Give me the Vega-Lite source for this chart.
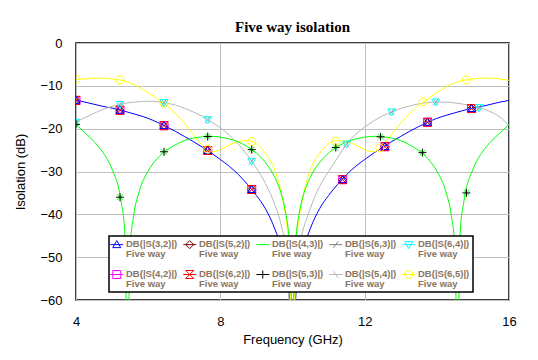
{
  "$schema": "https://vega.github.io/schema/vega-lite/v6.json",
  "width": 433,
  "height": 257,
  "autosize": {"type": "none"},
  "padding": {"left": 76, "top": 43, "right": 29, "bottom": 60},
  "background": "white",
  "title": {"text": "Five way isolation", "font": "Liberation Serif", "fontSize": 15, "fontWeight": "bold", "baseline": "alphabetic", "frame": "group", "offset": 10, "dy": 20, "anchor": "middle", "color": "black"},
  "config": {
    "view": {"stroke": "black", "strokeWidth": 1.5},
    "axis": {"gridColor": "#c0c0c0", "gridWidth": 1, "gridOpacity": 1, "domain": false, "ticks": false, "labelFont": "Liberation Sans", "labelFontSize": 13, "labelColor": "black", "titleFont": "Liberation Sans", "titleFontSize": 13, "titleFontWeight": "normal", "titleColor": "black"}
  },
  "datasets": {
    "curves": [
      {"s": "DB(|S(3,2)|)", "f": 4, "db": -13.4}, {"s": "DB(|S(3,2)|)", "f": 4.25, "db": -13.8}, {"s": "DB(|S(3,2)|)", "f": 4.5, "db": -14.3}, {"s": "DB(|S(3,2)|)", "f": 4.75, "db": -14.8}, {"s": "DB(|S(3,2)|)", "f": 5, "db": -15.2}, {"s": "DB(|S(3,2)|)", "f": 5.25, "db": -15.7}, {"s": "DB(|S(3,2)|)", "f": 5.5, "db": -16.3}, {"s": "DB(|S(3,2)|)", "f": 5.75, "db": -16.9}, {"s": "DB(|S(3,2)|)", "f": 6, "db": -17.6}, {"s": "DB(|S(3,2)|)", "f": 6.25, "db": -18.5}, {"s": "DB(|S(3,2)|)", "f": 6.5, "db": -19.5}, {"s": "DB(|S(3,2)|)", "f": 6.75, "db": -20.6}, {"s": "DB(|S(3,2)|)", "f": 7, "db": -21.8}, {"s": "DB(|S(3,2)|)", "f": 7.25, "db": -23.0}, {"s": "DB(|S(3,2)|)", "f": 7.5, "db": -24.3}, {"s": "DB(|S(3,2)|)", "f": 7.75, "db": -25.7}, {"s": "DB(|S(3,2)|)", "f": 8, "db": -27.2}, {"s": "DB(|S(3,2)|)", "f": 8.25, "db": -28.8}, {"s": "DB(|S(3,2)|)", "f": 8.5, "db": -30.7}, {"s": "DB(|S(3,2)|)", "f": 8.75, "db": -33.0}, {"s": "DB(|S(3,2)|)", "f": 9, "db": -35.6}, {"s": "DB(|S(3,2)|)", "f": 9.25, "db": -38.7}, {"s": "DB(|S(3,2)|)", "f": 9.5, "db": -43.2}, {"s": "DB(|S(3,2)|)", "f": 9.75, "db": -50}, {"s": "DB(|S(3,2)|)", "f": 9.9, "db": -58}, {"s": "DB(|S(3,2)|)", "f": 10, "db": -75}, {"s": "DB(|S(3,2)|)", "f": 10.1, "db": -58}, {"s": "DB(|S(3,2)|)", "f": 10.25, "db": -50}, {"s": "DB(|S(3,2)|)", "f": 10.5, "db": -43.2}, {"s": "DB(|S(3,2)|)", "f": 10.75, "db": -38.7}, {"s": "DB(|S(3,2)|)", "f": 11, "db": -35.6}, {"s": "DB(|S(3,2)|)", "f": 11.25, "db": -33.0}, {"s": "DB(|S(3,2)|)", "f": 11.5, "db": -30.7}, {"s": "DB(|S(3,2)|)", "f": 11.75, "db": -28.8}, {"s": "DB(|S(3,2)|)", "f": 12, "db": -27.2}, {"s": "DB(|S(3,2)|)", "f": 12.25, "db": -25.7}, {"s": "DB(|S(3,2)|)", "f": 12.5, "db": -24.3}, {"s": "DB(|S(3,2)|)", "f": 12.75, "db": -23.0}, {"s": "DB(|S(3,2)|)", "f": 13, "db": -21.8}, {"s": "DB(|S(3,2)|)", "f": 13.25, "db": -20.6}, {"s": "DB(|S(3,2)|)", "f": 13.5, "db": -19.5}, {"s": "DB(|S(3,2)|)", "f": 13.75, "db": -18.5}, {"s": "DB(|S(3,2)|)", "f": 14, "db": -17.6}, {"s": "DB(|S(3,2)|)", "f": 14.25, "db": -16.9}, {"s": "DB(|S(3,2)|)", "f": 14.5, "db": -16.3}, {"s": "DB(|S(3,2)|)", "f": 14.75, "db": -15.7}, {"s": "DB(|S(3,2)|)", "f": 15, "db": -15.2}, {"s": "DB(|S(3,2)|)", "f": 15.25, "db": -14.8}, {"s": "DB(|S(3,2)|)", "f": 15.5, "db": -14.3}, {"s": "DB(|S(3,2)|)", "f": 15.75, "db": -13.8}, {"s": "DB(|S(3,2)|)", "f": 16, "db": -13.4},

      {"s": "DB(|S(5,4)|)", "f": 4, "db": -18.5}, {"s": "DB(|S(5,4)|)", "f": 4.25, "db": -17.4}, {"s": "DB(|S(5,4)|)", "f": 4.5, "db": -16.4}, {"s": "DB(|S(5,4)|)", "f": 4.75, "db": -15.5}, {"s": "DB(|S(5,4)|)", "f": 5, "db": -14.8}, {"s": "DB(|S(5,4)|)", "f": 5.25, "db": -14.3}, {"s": "DB(|S(5,4)|)", "f": 5.5, "db": -13.9}, {"s": "DB(|S(5,4)|)", "f": 5.75, "db": -13.7}, {"s": "DB(|S(5,4)|)", "f": 6, "db": -13.6}, {"s": "DB(|S(5,4)|)", "f": 6.25, "db": -13.7}, {"s": "DB(|S(5,4)|)", "f": 6.5, "db": -14.0}, {"s": "DB(|S(5,4)|)", "f": 6.75, "db": -14.5}, {"s": "DB(|S(5,4)|)", "f": 7, "db": -15.2}, {"s": "DB(|S(5,4)|)", "f": 7.25, "db": -16.1}, {"s": "DB(|S(5,4)|)", "f": 7.5, "db": -17.1}, {"s": "DB(|S(5,4)|)", "f": 7.75, "db": -18.4}, {"s": "DB(|S(5,4)|)", "f": 8, "db": -19.8}, {"s": "DB(|S(5,4)|)", "f": 8.25, "db": -21.5}, {"s": "DB(|S(5,4)|)", "f": 8.5, "db": -23.6}, {"s": "DB(|S(5,4)|)", "f": 8.75, "db": -26.2}, {"s": "DB(|S(5,4)|)", "f": 9, "db": -29.2}, {"s": "DB(|S(5,4)|)", "f": 9.25, "db": -32.8}, {"s": "DB(|S(5,4)|)", "f": 9.5, "db": -37.5}, {"s": "DB(|S(5,4)|)", "f": 9.7, "db": -43}, {"s": "DB(|S(5,4)|)", "f": 9.85, "db": -50}, {"s": "DB(|S(5,4)|)", "f": 10, "db": -75}, {"s": "DB(|S(5,4)|)", "f": 10.12, "db": -50}, {"s": "DB(|S(5,4)|)", "f": 10.25, "db": -45}, {"s": "DB(|S(5,4)|)", "f": 10.5, "db": -38.5}, {"s": "DB(|S(5,4)|)", "f": 10.75, "db": -33.5}, {"s": "DB(|S(5,4)|)", "f": 11, "db": -30}, {"s": "DB(|S(5,4)|)", "f": 11.25, "db": -26.8}, {"s": "DB(|S(5,4)|)", "f": 11.5, "db": -23.6}, {"s": "DB(|S(5,4)|)", "f": 11.75, "db": -21.3}, {"s": "DB(|S(5,4)|)", "f": 12, "db": -19.6}, {"s": "DB(|S(5,4)|)", "f": 12.25, "db": -18.2}, {"s": "DB(|S(5,4)|)", "f": 12.5, "db": -17.0}, {"s": "DB(|S(5,4)|)", "f": 12.75, "db": -16.1}, {"s": "DB(|S(5,4)|)", "f": 13, "db": -15.3}, {"s": "DB(|S(5,4)|)", "f": 13.25, "db": -14.7}, {"s": "DB(|S(5,4)|)", "f": 13.5, "db": -14.2}, {"s": "DB(|S(5,4)|)", "f": 13.75, "db": -13.9}, {"s": "DB(|S(5,4)|)", "f": 14, "db": -13.8}, {"s": "DB(|S(5,4)|)", "f": 14.25, "db": -13.8}, {"s": "DB(|S(5,4)|)", "f": 14.5, "db": -14.0}, {"s": "DB(|S(5,4)|)", "f": 14.75, "db": -14.3}, {"s": "DB(|S(5,4)|)", "f": 15, "db": -14.7}, {"s": "DB(|S(5,4)|)", "f": 15.25, "db": -15.3}, {"s": "DB(|S(5,4)|)", "f": 15.5, "db": -16.1}, {"s": "DB(|S(5,4)|)", "f": 15.75, "db": -17.3}, {"s": "DB(|S(5,4)|)", "f": 16, "db": -19.3},

      {"s": "DB(|S(6,5)|)", "f": 4, "db": -8.5}, {"s": "DB(|S(6,5)|)", "f": 4.25, "db": -8.4}, {"s": "DB(|S(6,5)|)", "f": 4.5, "db": -8.2}, {"s": "DB(|S(6,5)|)", "f": 4.75, "db": -8.2}, {"s": "DB(|S(6,5)|)", "f": 5, "db": -8.4}, {"s": "DB(|S(6,5)|)", "f": 5.25, "db": -8.7}, {"s": "DB(|S(6,5)|)", "f": 5.5, "db": -9.3}, {"s": "DB(|S(6,5)|)", "f": 5.75, "db": -10.3}, {"s": "DB(|S(6,5)|)", "f": 6, "db": -11.6}, {"s": "DB(|S(6,5)|)", "f": 6.25, "db": -13.0}, {"s": "DB(|S(6,5)|)", "f": 6.5, "db": -14.5}, {"s": "DB(|S(6,5)|)", "f": 6.75, "db": -16.4}, {"s": "DB(|S(6,5)|)", "f": 7, "db": -18.7}, {"s": "DB(|S(6,5)|)", "f": 7.25, "db": -21.3}, {"s": "DB(|S(6,5)|)", "f": 7.5, "db": -23.9}, {"s": "DB(|S(6,5)|)", "f": 7.75, "db": -25.4}, {"s": "DB(|S(6,5)|)", "f": 8, "db": -24.9}, {"s": "DB(|S(6,5)|)", "f": 8.25, "db": -23.8}, {"s": "DB(|S(6,5)|)", "f": 8.5, "db": -23.0}, {"s": "DB(|S(6,5)|)", "f": 8.75, "db": -22.8}, {"s": "DB(|S(6,5)|)", "f": 9, "db": -23.5}, {"s": "DB(|S(6,5)|)", "f": 9.25, "db": -25.8}, {"s": "DB(|S(6,5)|)", "f": 9.5, "db": -29.5}, {"s": "DB(|S(6,5)|)", "f": 9.65, "db": -33.5}, {"s": "DB(|S(6,5)|)", "f": 9.75, "db": -37.5}, {"s": "DB(|S(6,5)|)", "f": 9.85, "db": -43}, {"s": "DB(|S(6,5)|)", "f": 9.92, "db": -50}, {"s": "DB(|S(6,5)|)", "f": 10, "db": -75}, {"s": "DB(|S(6,5)|)", "f": 10.08, "db": -50}, {"s": "DB(|S(6,5)|)", "f": 10.15, "db": -43}, {"s": "DB(|S(6,5)|)", "f": 10.25, "db": -37.5}, {"s": "DB(|S(6,5)|)", "f": 10.35, "db": -33.5}, {"s": "DB(|S(6,5)|)", "f": 10.5, "db": -29.5}, {"s": "DB(|S(6,5)|)", "f": 10.75, "db": -25.8}, {"s": "DB(|S(6,5)|)", "f": 11, "db": -23.5}, {"s": "DB(|S(6,5)|)", "f": 11.25, "db": -22.8}, {"s": "DB(|S(6,5)|)", "f": 11.5, "db": -23.0}, {"s": "DB(|S(6,5)|)", "f": 11.75, "db": -23.8}, {"s": "DB(|S(6,5)|)", "f": 12, "db": -24.9}, {"s": "DB(|S(6,5)|)", "f": 12.25, "db": -25.4}, {"s": "DB(|S(6,5)|)", "f": 12.5, "db": -23.9}, {"s": "DB(|S(6,5)|)", "f": 12.75, "db": -21.3}, {"s": "DB(|S(6,5)|)", "f": 13, "db": -18.7}, {"s": "DB(|S(6,5)|)", "f": 13.25, "db": -16.4}, {"s": "DB(|S(6,5)|)", "f": 13.5, "db": -14.5}, {"s": "DB(|S(6,5)|)", "f": 13.75, "db": -13.0}, {"s": "DB(|S(6,5)|)", "f": 14, "db": -11.6}, {"s": "DB(|S(6,5)|)", "f": 14.25, "db": -10.3}, {"s": "DB(|S(6,5)|)", "f": 14.5, "db": -9.3}, {"s": "DB(|S(6,5)|)", "f": 14.75, "db": -8.7}, {"s": "DB(|S(6,5)|)", "f": 15, "db": -8.4}, {"s": "DB(|S(6,5)|)", "f": 15.25, "db": -8.2}, {"s": "DB(|S(6,5)|)", "f": 15.5, "db": -8.2}, {"s": "DB(|S(6,5)|)", "f": 15.75, "db": -8.4}, {"s": "DB(|S(6,5)|)", "f": 16, "db": -8.7},

      {"s": "DB(|S(4,3)|)", "f": 4, "db": -19.0}, {"s": "DB(|S(4,3)|)", "f": 4.25, "db": -21.0}, {"s": "DB(|S(4,3)|)", "f": 4.5, "db": -23.0}, {"s": "DB(|S(4,3)|)", "f": 4.75, "db": -25.6}, {"s": "DB(|S(4,3)|)", "f": 5, "db": -29.5}, {"s": "DB(|S(4,3)|)", "f": 5.25, "db": -37.0}, {"s": "DB(|S(4,3)|)", "f": 5.35, "db": -44}, {"s": "DB(|S(4,3)|)", "f": 5.43, "db": -75}, {"s": "DB(|S(4,3)|)", "f": 5.5, "db": -47.8}, {"s": "DB(|S(4,3)|)", "f": 5.6, "db": -40.2}, {"s": "DB(|S(4,3)|)", "f": 5.75, "db": -34.7}, {"s": "DB(|S(4,3)|)", "f": 6, "db": -29.9}, {"s": "DB(|S(4,3)|)", "f": 6.25, "db": -27.0}, {"s": "DB(|S(4,3)|)", "f": 6.5, "db": -25.1}, {"s": "DB(|S(4,3)|)", "f": 6.75, "db": -23.8}, {"s": "DB(|S(4,3)|)", "f": 7, "db": -22.8}, {"s": "DB(|S(4,3)|)", "f": 7.25, "db": -22.2}, {"s": "DB(|S(4,3)|)", "f": 7.5, "db": -21.9}, {"s": "DB(|S(4,3)|)", "f": 7.75, "db": -21.8}, {"s": "DB(|S(4,3)|)", "f": 8, "db": -22.0}, {"s": "DB(|S(4,3)|)", "f": 8.25, "db": -22.4}, {"s": "DB(|S(4,3)|)", "f": 8.5, "db": -23.1}, {"s": "DB(|S(4,3)|)", "f": 8.75, "db": -24.2}, {"s": "DB(|S(4,3)|)", "f": 9, "db": -25.7}, {"s": "DB(|S(4,3)|)", "f": 9.25, "db": -27.9}, {"s": "DB(|S(4,3)|)", "f": 9.5, "db": -31.2}, {"s": "DB(|S(4,3)|)", "f": 9.7, "db": -35.6}, {"s": "DB(|S(4,3)|)", "f": 9.8, "db": -39.1}, {"s": "DB(|S(4,3)|)", "f": 9.9, "db": -45.1}, {"s": "DB(|S(4,3)|)", "f": 9.95, "db": -51}, {"s": "DB(|S(4,3)|)", "f": 10, "db": -75}, {"s": "DB(|S(4,3)|)", "f": 10.05, "db": -51}, {"s": "DB(|S(4,3)|)", "f": 10.1, "db": -45.1}, {"s": "DB(|S(4,3)|)", "f": 10.2, "db": -39.1}, {"s": "DB(|S(4,3)|)", "f": 10.3, "db": -35.6}, {"s": "DB(|S(4,3)|)", "f": 10.5, "db": -31.2}, {"s": "DB(|S(4,3)|)", "f": 10.75, "db": -27.9}, {"s": "DB(|S(4,3)|)", "f": 11, "db": -25.7}, {"s": "DB(|S(4,3)|)", "f": 11.25, "db": -24.2}, {"s": "DB(|S(4,3)|)", "f": 11.5, "db": -23.1}, {"s": "DB(|S(4,3)|)", "f": 11.75, "db": -22.4}, {"s": "DB(|S(4,3)|)", "f": 12, "db": -22.0}, {"s": "DB(|S(4,3)|)", "f": 12.25, "db": -21.8}, {"s": "DB(|S(4,3)|)", "f": 12.5, "db": -21.9}, {"s": "DB(|S(4,3)|)", "f": 12.75, "db": -22.2}, {"s": "DB(|S(4,3)|)", "f": 13, "db": -22.8}, {"s": "DB(|S(4,3)|)", "f": 13.25, "db": -23.8}, {"s": "DB(|S(4,3)|)", "f": 13.5, "db": -25.1}, {"s": "DB(|S(4,3)|)", "f": 13.75, "db": -27.0}, {"s": "DB(|S(4,3)|)", "f": 14, "db": -29.9}, {"s": "DB(|S(4,3)|)", "f": 14.25, "db": -34.7}, {"s": "DB(|S(4,3)|)", "f": 14.4, "db": -40.2}, {"s": "DB(|S(4,3)|)", "f": 14.5, "db": -47.8}, {"s": "DB(|S(4,3)|)", "f": 14.57, "db": -75}, {"s": "DB(|S(4,3)|)", "f": 14.65, "db": -44}, {"s": "DB(|S(4,3)|)", "f": 14.75, "db": -37.0}, {"s": "DB(|S(4,3)|)", "f": 15, "db": -29.5}, {"s": "DB(|S(4,3)|)", "f": 15.25, "db": -25.6}, {"s": "DB(|S(4,3)|)", "f": 15.5, "db": -23.0}, {"s": "DB(|S(4,3)|)", "f": 15.75, "db": -21.0}, {"s": "DB(|S(4,3)|)", "f": 16, "db": -19.0}
    ],
    "markers": [
      {"s": "DB(|S(4,2)|)", "f": 4, "db": -13.4}, {"s": "DB(|S(4,2)|)", "f": 5.22, "db": -15.7}, {"s": "DB(|S(4,2)|)", "f": 6.44, "db": -19.3}, {"s": "DB(|S(4,2)|)", "f": 7.65, "db": -25.1}, {"s": "DB(|S(4,2)|)", "f": 8.87, "db": -34.2}, {"s": "DB(|S(4,2)|)", "f": 11.39, "db": -31.9}, {"s": "DB(|S(4,2)|)", "f": 12.56, "db": -24.2}, {"s": "DB(|S(4,2)|)", "f": 13.74, "db": -18.5}, {"s": "DB(|S(4,2)|)", "f": 14.96, "db": -15.3},
      {"s": "DB(|S(5,2)|)", "f": 4, "db": -13.4}, {"s": "DB(|S(5,2)|)", "f": 5.22, "db": -15.7}, {"s": "DB(|S(5,2)|)", "f": 6.44, "db": -19.3}, {"s": "DB(|S(5,2)|)", "f": 7.65, "db": -25.1}, {"s": "DB(|S(5,2)|)", "f": 8.87, "db": -34.2}, {"s": "DB(|S(5,2)|)", "f": 11.39, "db": -31.9}, {"s": "DB(|S(5,2)|)", "f": 12.56, "db": -24.2}, {"s": "DB(|S(5,2)|)", "f": 13.74, "db": -18.5}, {"s": "DB(|S(5,2)|)", "f": 14.96, "db": -15.3},
      {"s": "DB(|S(6,2)|)", "f": 4, "db": -13.4}, {"s": "DB(|S(6,2)|)", "f": 5.22, "db": -15.7}, {"s": "DB(|S(6,2)|)", "f": 6.44, "db": -19.3}, {"s": "DB(|S(6,2)|)", "f": 7.65, "db": -25.1}, {"s": "DB(|S(6,2)|)", "f": 8.87, "db": -34.2}, {"s": "DB(|S(6,2)|)", "f": 11.39, "db": -31.9}, {"s": "DB(|S(6,2)|)", "f": 12.56, "db": -24.2}, {"s": "DB(|S(6,2)|)", "f": 13.74, "db": -18.5}, {"s": "DB(|S(6,2)|)", "f": 14.96, "db": -15.3},
      {"s": "DB(|S(3,2)|)", "f": 4, "db": -13.4}, {"s": "DB(|S(3,2)|)", "f": 5.22, "db": -15.7}, {"s": "DB(|S(3,2)|)", "f": 6.44, "db": -19.3}, {"s": "DB(|S(3,2)|)", "f": 7.65, "db": -25.1}, {"s": "DB(|S(3,2)|)", "f": 8.87, "db": -34.2}, {"s": "DB(|S(3,2)|)", "f": 11.39, "db": -31.9}, {"s": "DB(|S(3,2)|)", "f": 12.56, "db": -24.2}, {"s": "DB(|S(3,2)|)", "f": 13.74, "db": -18.5}, {"s": "DB(|S(3,2)|)", "f": 14.96, "db": -15.3},
      {"s": "DB(|S(6,5)|)", "f": 4, "db": -8.5}, {"s": "DB(|S(6,5)|)", "f": 5.22, "db": -8.65}, {"s": "DB(|S(6,5)|)", "f": 6.44, "db": -14.1}, {"s": "DB(|S(6,5)|)", "f": 7.65, "db": -24.8}, {"s": "DB(|S(6,5)|)", "f": 8.87, "db": -23.0}, {"s": "DB(|S(6,5)|)", "f": 11.2, "db": -22.9}, {"s": "DB(|S(6,5)|)", "f": 12.42, "db": -24.5}, {"s": "DB(|S(6,5)|)", "f": 13.62, "db": -13.7}, {"s": "DB(|S(6,5)|)", "f": 14.82, "db": -8.6},
      {"s": "DB(|S(6,3)|)", "f": 4, "db": -18.5}, {"s": "DB(|S(6,3)|)", "f": 5.22, "db": -14.35}, {"s": "DB(|S(6,3)|)", "f": 6.44, "db": -13.9}, {"s": "DB(|S(6,3)|)", "f": 7.65, "db": -17.9}, {"s": "DB(|S(6,3)|)", "f": 8.87, "db": -27.6}, {"s": "DB(|S(6,3)|)", "f": 11.5, "db": -23.6}, {"s": "DB(|S(6,3)|)", "f": 12.75, "db": -16.1}, {"s": "DB(|S(6,3)|)", "f": 13.97, "db": -13.8}, {"s": "DB(|S(6,3)|)", "f": 15.17, "db": -15.1},
      {"s": "DB(|S(5,4)|)", "f": 4, "db": -18.5}, {"s": "DB(|S(5,4)|)", "f": 5.22, "db": -14.35}, {"s": "DB(|S(5,4)|)", "f": 6.44, "db": -13.9}, {"s": "DB(|S(5,4)|)", "f": 7.65, "db": -17.9}, {"s": "DB(|S(5,4)|)", "f": 8.87, "db": -27.6}, {"s": "DB(|S(5,4)|)", "f": 11.5, "db": -23.6}, {"s": "DB(|S(5,4)|)", "f": 12.75, "db": -16.1}, {"s": "DB(|S(5,4)|)", "f": 13.97, "db": -13.8}, {"s": "DB(|S(5,4)|)", "f": 15.17, "db": -15.1},
      {"s": "DB(|S(6,4)|)", "f": 4, "db": -18.5}, {"s": "DB(|S(6,4)|)", "f": 5.22, "db": -14.35}, {"s": "DB(|S(6,4)|)", "f": 6.44, "db": -13.9}, {"s": "DB(|S(6,4)|)", "f": 7.65, "db": -17.9}, {"s": "DB(|S(6,4)|)", "f": 8.87, "db": -27.6}, {"s": "DB(|S(6,4)|)", "f": 11.5, "db": -23.6}, {"s": "DB(|S(6,4)|)", "f": 12.75, "db": -16.1}, {"s": "DB(|S(6,4)|)", "f": 13.97, "db": -13.8}, {"s": "DB(|S(6,4)|)", "f": 15.17, "db": -15.1},
      {"s": "DB(|S(4,3)|)", "f": 4, "db": -19.0}, {"s": "DB(|S(4,3)|)", "f": 5.22, "db": -36.0}, {"s": "DB(|S(4,3)|)", "f": 6.44, "db": -25.4}, {"s": "DB(|S(4,3)|)", "f": 7.65, "db": -21.85}, {"s": "DB(|S(4,3)|)", "f": 8.87, "db": -24.9}, {"s": "DB(|S(4,3)|)", "f": 11.2, "db": -24.4}, {"s": "DB(|S(4,3)|)", "f": 12.44, "db": -21.9}, {"s": "DB(|S(4,3)|)", "f": 13.6, "db": -25.6}, {"s": "DB(|S(4,3)|)", "f": 14.82, "db": -35.0},
      {"s": "DB(|S(5,3)|)", "f": 4, "db": -19.0}, {"s": "DB(|S(5,3)|)", "f": 5.22, "db": -36.0}, {"s": "DB(|S(5,3)|)", "f": 6.44, "db": -25.4}, {"s": "DB(|S(5,3)|)", "f": 7.65, "db": -21.85}, {"s": "DB(|S(5,3)|)", "f": 8.87, "db": -24.9}, {"s": "DB(|S(5,3)|)", "f": 11.2, "db": -24.4}, {"s": "DB(|S(5,3)|)", "f": 12.44, "db": -21.9}, {"s": "DB(|S(5,3)|)", "f": 13.6, "db": -25.6}, {"s": "DB(|S(5,3)|)", "f": 14.82, "db": -35.0}
    ]
  },
  "encoding": {
    "x": {"field": "f", "type": "quantitative", "scale": {"domain": [4, 16], "nice": false, "zero": false}, "axis": {"values": [4, 8, 12, 16], "title": "Frequency (GHz)", "labelPadding": 15, "titlePadding": 5, "labelFlush": false}},
    "y": {"field": "db", "type": "quantitative", "scale": {"domain": [-60, 0], "nice": false, "zero": false}, "axis": {"values": [-60, -50, -40, -30, -20, -10, 0], "title": "Isolation (dB)", "labelPadding": 14, "titlePadding": 12}}
  },
  "layer": [
    {
      "data": {"name": "curves"},
      "mark": {"type": "line", "strokeWidth": 1, "clip": true, "interpolate": "monotone"},
      "encoding": {
        "color": {"field": "s", "type": "nominal",
          "scale": {"domain": ["DB(|S(3,2)|)", "DB(|S(5,2)|)", "DB(|S(4,3)|)", "DB(|S(6,3)|)", "DB(|S(6,4)|)", "DB(|S(4,2)|)", "DB(|S(6,2)|)", "DB(|S(5,3)|)", "DB(|S(5,4)|)", "DB(|S(6,5)|)"],
                    "range": ["#0000ff", "#800000", "#00ff00", "#808080", "#00ffff", "#ff00ff", "#ff0000", "#000000", "#b8b8b8", "#ffff00"]},
          "legend": {
            "title": null, "orient": "none", "legendX": 33, "legendY": 193, "columns": 5, "direction": "horizontal",
            "fillColor": "white", "strokeColor": "black", "padding": 3,
            "rowPadding": 9, "columnPadding": 3, "labelOffset": 4.5, "symbolSize": 64, "symbolStrokeWidth": 1,
            "labelFont": "Liberation Sans", "labelFontSize": 9.5, "labelFontWeight": "bold", "labelColor": "#8a7560",
            "labelExpr": "[datum.label, 'Five way']", "labelBaseline": "middle", "labelLimit": 0,
            "encode": {
              "legend": {"update": {"strokeWidth": {"value": 1.5}}},
              "labels": {"update": {"lineHeight": {"value": 10.5}}},
              "symbols": {"update": {"y": {"value": 5.5}, "shape": {"signal": "datum.value == 'DB(|S(3,2)|)' ? 'M-1.6,0H1.6M0,-1L1,0.75L-1,0.75Z' : datum.value == 'DB(|S(5,2)|)' ? 'M-1.6,0H1.6M0,-1L1,0L0,1L-1,0Z' : datum.value == 'DB(|S(4,3)|)' ? 'M-1.6,0H1.6' : datum.value == 'DB(|S(6,3)|)' ? 'M-1.6,0H1.6M-0.6,0.8L0.6,-0.8' : datum.value == 'DB(|S(6,4)|)' ? 'M-1.6,0H1.6M-1,-0.75L1,-0.75L0,1Z' : datum.value == 'DB(|S(4,2)|)' ? 'M-1.6,0H1.6M-1,-1H1V1H-1Z' : datum.value == 'DB(|S(6,2)|)' ? 'M-1.6,0H1.6M-1,-1H1L-1,1H1Z' : datum.value == 'DB(|S(5,3)|)' ? 'M-1.6,0H1.6M0,-1V1' : datum.value == 'DB(|S(5,4)|)' ? 'M-1.6,0H1.6M-0.6,-0.8L0.6,0.8' : 'M-1.6,0H1.6M1,0A1,1,0,1,1,-1,0A1,1,0,1,1,1,0Z'"}, "size": {"value": 64}, "fill": {"value": "transparent"}, "strokeWidth": {"value": 1}}}
            }
          }
        }
      }
    },
    {
      "data": {"name": "markers"},
      "mark": {"type": "point", "filled": false, "clip": true, "strokeWidth": 1, "size": 64, "opacity": 1,
        "shape": {"expr": "datum.s == 'DB(|S(3,2)|)' ? 'M0,-1L1,0.75L-1,0.75Z' : datum.s == 'DB(|S(5,2)|)' ? 'M0,-1L1,0L0,1L-1,0Z' : datum.s == 'DB(|S(4,3)|)' ? 'M-0.7,-0.7L0.7,0.7M-0.7,0.7L0.7,-0.7' : datum.s == 'DB(|S(6,3)|)' ? 'M-0.6,0.8L0.6,-0.8' : datum.s == 'DB(|S(6,4)|)' ? 'M-1,-0.75L1,-0.75L0,1Z' : datum.s == 'DB(|S(4,2)|)' ? 'M-1,-1H1V1H-1Z' : datum.s == 'DB(|S(6,2)|)' ? 'M-1,-1H1L-1,1H1Z' : datum.s == 'DB(|S(5,3)|)' ? 'M-1,0H1M0,-1V1' : datum.s == 'DB(|S(5,4)|)' ? 'M-0.6,-0.8L0.6,0.8' : 'M1,0A1,1,0,1,1,-1,0A1,1,0,1,1,1,0Z'"}},
      "encoding": {
        "color": {"field": "s", "type": "nominal", "legend": null}
      }
    }
  ]
}
